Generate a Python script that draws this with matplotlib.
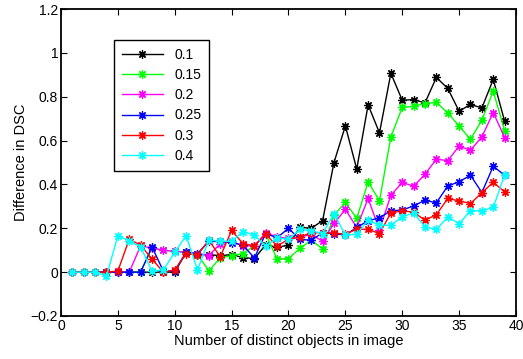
import matplotlib
matplotlib.use("Agg")
import matplotlib.pyplot as plt

# number of distinct objects in image
n_objects = list(range(1, 40))

thresholds = ['0.1', '0.15', '0.2', '0.25', '0.3', '0.4']
colors = ['black', '#00ff00', '#ff00ff', 'blue', 'red', 'cyan']

dsc_01 = [0, 0, 0, 0, 0, 0, 0, 0, 0, 0,
          0.09, 0.08, 0.08, 0.075, 0.08, 0.066, 0.062, 0.125, 0.113, 0.123,
          0.205, 0.2, 0.235, 0.5, 0.667, 0.47, 0.763, 0.635, 0.907, 0.784,
          0.787, 0.772, 0.888, 0.838, 0.734, 0.765, 0.749, 0.879, 0.689]
dsc_015 = [0, 0, 0, 0, 0, 0, 0, 0.11, 0.1, 0.095,
           0.09, 0.08, 0.006, 0.065, 0.075, 0.085, 0.12, 0.172, 0.06, 0.062,
           0.108, 0.146, 0.106, 0.26, 0.318, 0.245, 0.412, 0.325, 0.617, 0.751,
           0.757, 0.769, 0.774, 0.726, 0.666, 0.606, 0.693, 0.825, 0.646]
dsc_02 = [0, 0, 0, 0, 0, 0, 0.12, 0.11, 0.1, 0.095,
          0.09, 0.085, 0.075, 0.13, 0.14, 0.12, 0.12, 0.18, 0.16, 0.154,
          0.16, 0.172, 0.141, 0.222, 0.286, 0.204, 0.336, 0.192, 0.351, 0.409,
          0.392, 0.446, 0.516, 0.508, 0.575, 0.556, 0.617, 0.728, 0.614]
dsc_025 = [0, 0, 0, 0, 0, 0, 0, 0.115, 0.005, 0.005,
           0.09, 0.085, 0.14, 0.14, 0.135, 0.123, 0.065, 0.176, 0.157, 0.2,
           0.149, 0.146, 0.179, 0.176, 0.169, 0.204, 0.234, 0.248, 0.28, 0.283,
           0.302, 0.328, 0.316, 0.393, 0.412, 0.442, 0.363, 0.483, 0.442]
dsc_03 = [0, 0, 0, 0, 0.005, 0.15, 0.123, 0.06, 0, 0.01,
          0.085, 0.078, 0.146, 0.07, 0.19, 0.13, 0.12, 0.172, 0.12, 0.149,
          0.16, 0.18, 0.18, 0.178, 0.173, 0.196, 0.195, 0.176, 0.27, 0.28,
          0.273, 0.237, 0.262, 0.336, 0.325, 0.313, 0.362, 0.41, 0.366]
dsc_04 = [0, 0, 0, -0.018, 0.166, 0.143, 0.115, 0.005, 0.01, 0.09,
          0.166, 0.01, 0.146, 0.141, 0.141, 0.184, 0.17, 0.118, 0.156, 0.149,
          0.195, 0.189, 0.176, 0.267, 0.169, 0.173, 0.237, 0.214, 0.214, 0.252,
          0.27, 0.206, 0.195, 0.251, 0.221, 0.28, 0.28, 0.295, 0.442]

series = [dsc_01, dsc_015, dsc_02, dsc_025, dsc_03, dsc_04]

plt.rcParams['font.family'] = ['Liberation Sans', 'DejaVu Sans']

fig = plt.figure(figsize=(5.23, 3.59), dpi=100)
ax = fig.add_axes([0.1166, 0.1198, 0.87, 0.855])

# asterisk markers like matlab '*'
for vals, c, lab in zip(series, colors, thresholds):
    ax.plot(n_objects, vals, color=c, marker=(8, 2, 0), markersize=6,
            markeredgewidth=0.9, linewidth=1.0, label=lab)

ax.set_xlim(0, 40)
ax.set_ylim(-0.2, 1.2)
ax.set_xticks(range(0, 41, 5))
ax.set_yticks([-0.2, 0, 0.2, 0.4, 0.6, 0.8, 1.0, 1.2])
ax.set_yticklabels(['\u22120.2', '0', '0.2', '0.4', '0.6', '0.8', '1', '1.2'])
ax.tick_params(direction='in', top=True, right=True, labelsize=10, pad=2,
               length=4, width=0.8)
for s in ax.spines.values():
    s.set_linewidth(1.3)

ax.set_xlabel('Number of distinct objects in image', fontsize=10.5, labelpad=1)
ax.set_ylabel('Difference in DSC', fontsize=10.5, labelpad=2)

leg = ax.legend(loc='upper left', bbox_to_anchor=(0.1165, 0.899), borderaxespad=0,
                fontsize=10, fancybox=False, framealpha=1, edgecolor='black',
                handlelength=3.0, labelspacing=0.45, borderpad=0.55)
leg.get_frame().set_linewidth(1.0)

fig.savefig('out.png', dpi=100)
